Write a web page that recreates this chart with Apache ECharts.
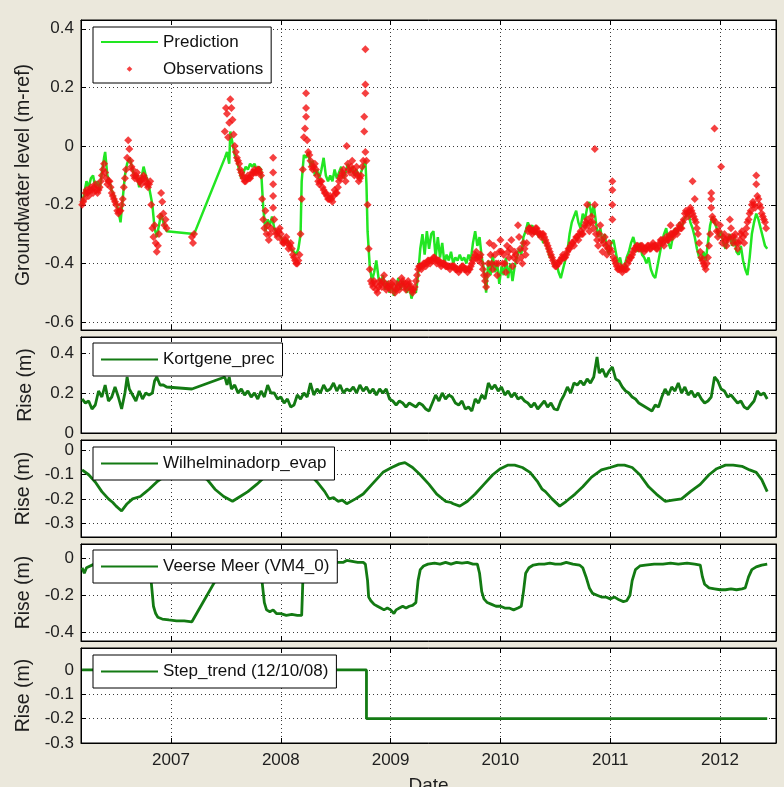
<!DOCTYPE html>
<html><head><meta charset="utf-8">
<script src="https://cdn.jsdelivr.net/npm/echarts@6/dist/echarts.min.js"></script>
<style>html,body{margin:0;padding:0;background:#ebe8dc;}#c{width:784px;height:787px;}</style>
</head><body><div id="c"></div><script>
// ---- data ----
const yearTicks = [2007, 2008, 2009, 2010, 2011, 2012];
const xRange = [2006.18, 2012.51];

const prediction = [[2006.19,-0.20],[2006.21,-0.16],[2006.23,-0.12],[2006.25,-0.14],[2006.27,-0.11],[2006.29,-0.10],[2006.31,-0.14],[2006.33,-0.12],[2006.35,-0.15],[2006.37,-0.09],[2006.39,-0.04],[2006.40,-0.02],[2006.42,-0.10],[2006.44,-0.12],[2006.46,-0.15],[2006.48,-0.17],[2006.50,-0.19],[2006.52,-0.22],[2006.54,-0.26],[2006.56,-0.18],[2006.58,-0.10],[2006.60,-0.06],[2006.62,-0.04],[2006.63,-0.05],[2006.65,-0.08],[2006.67,-0.11],[2006.69,-0.10],[2006.71,-0.14],[2006.73,-0.11],[2006.75,-0.07],[2006.77,-0.10],[2006.79,-0.12],[2006.81,-0.16],[2006.83,-0.20],[2006.85,-0.28],[2006.87,-0.31],[2006.89,-0.27],[2006.91,-0.23],[2006.93,-0.26],[2006.95,-0.28],[2006.96,-0.29],[2007.21,-0.30],[2007.49,-0.04],[2007.51,-0.02],[2007.53,-0.06],[2007.54,0.05],[2007.56,0.01],[2007.58,-0.03],[2007.60,-0.05],[2007.62,-0.08],[2007.64,-0.11],[2007.66,-0.09],[2007.68,-0.07],[2007.70,-0.08],[2007.72,-0.06],[2007.74,-0.07],[2007.76,-0.06],[2007.78,-0.08],[2007.80,-0.07],[2007.82,-0.08],[2007.84,-0.21],[2007.86,-0.29],[2007.88,-0.25],[2007.90,-0.27],[2007.92,-0.24],[2007.94,-0.28],[2007.97,-0.30],[2008.00,-0.31],[2008.03,-0.33],[2008.06,-0.32],[2008.09,-0.35],[2008.12,-0.36],[2008.14,-0.37],[2008.16,-0.35],[2008.18,-0.30],[2008.19,-0.12],[2008.21,-0.03],[2008.23,-0.04],[2008.25,-0.02],[2008.27,-0.07],[2008.29,-0.05],[2008.31,-0.10],[2008.33,-0.08],[2008.35,-0.11],[2008.37,-0.08],[2008.39,-0.04],[2008.41,-0.10],[2008.43,-0.12],[2008.45,-0.10],[2008.47,-0.12],[2008.49,-0.08],[2008.51,-0.11],[2008.53,-0.09],[2008.55,-0.07],[2008.57,-0.11],[2008.59,-0.09],[2008.61,-0.06],[2008.63,-0.09],[2008.65,-0.07],[2008.67,-0.10],[2008.69,-0.08],[2008.71,-0.11],[2008.73,-0.09],[2008.75,-0.07],[2008.77,-0.05],[2008.78,-0.13],[2008.79,-0.29],[2008.81,-0.41],[2008.83,-0.46],[2008.85,-0.43],[2008.87,-0.39],[2008.89,-0.45],[2008.91,-0.47],[2008.93,-0.44],[2008.95,-0.49],[2008.97,-0.46],[2008.99,-0.50],[2009.01,-0.47],[2009.03,-0.51],[2009.05,-0.48],[2009.07,-0.45],[2009.09,-0.49],[2009.11,-0.46],[2009.13,-0.48],[2009.15,-0.50],[2009.17,-0.47],[2009.19,-0.52],[2009.21,-0.49],[2009.23,-0.50],[2009.25,-0.44],[2009.27,-0.35],[2009.29,-0.30],[2009.31,-0.37],[2009.33,-0.29],[2009.35,-0.35],[2009.37,-0.30],[2009.39,-0.29],[2009.41,-0.38],[2009.43,-0.31],[2009.45,-0.38],[2009.47,-0.33],[2009.49,-0.40],[2009.51,-0.37],[2009.53,-0.39],[2009.55,-0.36],[2009.57,-0.40],[2009.59,-0.38],[2009.61,-0.39],[2009.63,-0.37],[2009.65,-0.39],[2009.67,-0.38],[2009.69,-0.40],[2009.71,-0.37],[2009.73,-0.39],[2009.75,-0.33],[2009.77,-0.29],[2009.79,-0.34],[2009.81,-0.31],[2009.83,-0.38],[2009.85,-0.42],[2009.87,-0.50],[2009.89,-0.39],[2009.91,-0.44],[2009.93,-0.37],[2009.95,-0.43],[2009.97,-0.40],[2009.99,-0.47],[2010.01,-0.41],[2010.03,-0.44],[2010.05,-0.38],[2010.07,-0.45],[2010.09,-0.40],[2010.11,-0.46],[2010.13,-0.41],[2010.15,-0.38],[2010.17,-0.35],[2010.19,-0.37],[2010.21,-0.31],[2010.23,-0.29],[2010.25,-0.26],[2010.27,-0.28],[2010.29,-0.27],[2010.31,-0.30],[2010.33,-0.29],[2010.35,-0.31],[2010.37,-0.30],[2010.39,-0.33],[2010.41,-0.32],[2010.43,-0.35],[2010.45,-0.38],[2010.47,-0.37],[2010.49,-0.41],[2010.51,-0.40],[2010.53,-0.43],[2010.55,-0.45],[2010.57,-0.42],[2010.59,-0.39],[2010.61,-0.36],[2010.63,-0.30],[2010.65,-0.26],[2010.67,-0.24],[2010.69,-0.22],[2010.71,-0.26],[2010.73,-0.28],[2010.75,-0.23],[2010.77,-0.25],[2010.79,-0.21],[2010.81,-0.19],[2010.83,-0.24],[2010.85,-0.20],[2010.87,-0.26],[2010.89,-0.31],[2010.91,-0.28],[2010.93,-0.33],[2010.95,-0.30],[2010.97,-0.35],[2010.99,-0.37],[2011.01,-0.33],[2011.03,-0.32],[2011.05,-0.36],[2011.07,-0.40],[2011.09,-0.38],[2011.11,-0.42],[2011.13,-0.41],[2011.15,-0.38],[2011.17,-0.36],[2011.19,-0.33],[2011.21,-0.31],[2011.23,-0.34],[2011.25,-0.36],[2011.27,-0.33],[2011.29,-0.37],[2011.31,-0.38],[2011.33,-0.40],[2011.35,-0.38],[2011.37,-0.42],[2011.39,-0.44],[2011.41,-0.45],[2011.43,-0.41],[2011.45,-0.37],[2011.47,-0.33],[2011.49,-0.30],[2011.51,-0.28],[2011.53,-0.33],[2011.55,-0.35],[2011.57,-0.31],[2011.59,-0.28],[2011.61,-0.30],[2011.63,-0.26],[2011.65,-0.28],[2011.67,-0.25],[2011.69,-0.24],[2011.71,-0.22],[2011.73,-0.26],[2011.75,-0.28],[2011.77,-0.31],[2011.79,-0.35],[2011.81,-0.38],[2011.83,-0.39],[2011.85,-0.36],[2011.87,-0.39],[2011.89,-0.33],[2011.91,-0.27],[2011.93,-0.24],[2011.95,-0.26],[2011.97,-0.28],[2011.99,-0.31],[2012.01,-0.29],[2012.03,-0.33],[2012.05,-0.35],[2012.07,-0.32],[2012.09,-0.30],[2012.11,-0.34],[2012.13,-0.31],[2012.15,-0.36],[2012.17,-0.37],[2012.19,-0.34],[2012.21,-0.39],[2012.23,-0.42],[2012.25,-0.44],[2012.27,-0.38],[2012.29,-0.30],[2012.31,-0.26],[2012.33,-0.23],[2012.35,-0.25],[2012.37,-0.28],[2012.39,-0.31],[2012.41,-0.34],[2012.43,-0.35]];

const observations = [[2006.19,-0.20],[2006.20,-0.19],[2006.21,-0.18],[2006.22,-0.16],[2006.23,-0.15],[2006.24,-0.16],[2006.25,-0.17],[2006.26,-0.15],[2006.27,-0.14],[2006.28,-0.15],[2006.29,-0.16],[2006.30,-0.14],[2006.31,-0.13],[2006.32,-0.15],[2006.33,-0.16],[2006.34,-0.15],[2006.35,-0.14],[2006.36,-0.12],[2006.37,-0.10],[2006.38,-0.08],[2006.39,-0.06],[2006.40,-0.09],[2006.41,-0.11],[2006.42,-0.13],[2006.43,-0.12],[2006.44,-0.12],[2006.45,-0.14],[2006.46,-0.16],[2006.47,-0.17],[2006.48,-0.18],[2006.49,-0.19],[2006.50,-0.20],[2006.51,-0.22],[2006.52,-0.23],[2006.53,-0.22],[2006.54,-0.22],[2006.55,-0.20],[2006.56,-0.18],[2006.57,-0.14],[2006.58,-0.11],[2006.59,-0.08],[2006.60,-0.04],[2006.61,0.02],[2006.62,-0.01],[2006.63,-0.05],[2006.64,-0.07],[2006.65,-0.08],[2006.66,-0.10],[2006.67,-0.11],[2006.68,-0.10],[2006.69,-0.09],[2006.70,-0.11],[2006.71,-0.12],[2006.72,-0.12],[2006.73,-0.13],[2006.74,-0.11],[2006.75,-0.10],[2006.76,-0.11],[2006.77,-0.12],[2006.78,-0.13],[2006.79,-0.14],[2006.80,-0.13],[2006.81,-0.12],[2006.82,-0.20],[2006.83,-0.28],[2006.84,-0.31],[2006.85,-0.27],[2006.86,-0.33],[2006.87,-0.36],[2006.88,-0.34],[2006.89,-0.30],[2006.90,-0.24],[2006.91,-0.16],[2006.92,-0.19],[2006.93,-0.23],[2006.94,-0.27],[2006.95,-0.25],[2006.96,-0.28],[2007.19,-0.31],[2007.20,-0.33],[2007.21,-0.30],[2007.49,0.05],[2007.50,0.13],[2007.51,0.11],[2007.52,0.03],[2007.53,0.08],[2007.54,0.16],[2007.55,0.13],[2007.56,0.09],[2007.57,0.04],[2007.58,0.00],[2007.59,-0.02],[2007.60,-0.04],[2007.61,-0.05],[2007.62,-0.06],[2007.63,-0.08],[2007.64,-0.09],[2007.65,-0.10],[2007.66,-0.11],[2007.67,-0.12],[2007.68,-0.12],[2007.69,-0.11],[2007.70,-0.10],[2007.71,-0.11],[2007.72,-0.11],[2007.73,-0.10],[2007.74,-0.09],[2007.75,-0.09],[2007.76,-0.08],[2007.77,-0.09],[2007.78,-0.09],[2007.79,-0.08],[2007.80,-0.08],[2007.81,-0.09],[2007.82,-0.10],[2007.83,-0.18],[2007.84,-0.25],[2007.85,-0.28],[2007.86,-0.22],[2007.87,-0.30],[2007.88,-0.27],[2007.89,-0.32],[2007.90,-0.30],[2007.91,-0.28],[2007.93,-0.04],[2007.93,-0.09],[2007.93,-0.13],[2007.93,-0.17],[2007.93,-0.21],[2007.94,-0.25],[2007.95,-0.29],[2007.96,-0.30],[2007.97,-0.31],[2007.98,-0.29],[2007.99,-0.28],[2008.00,-0.30],[2008.01,-0.32],[2008.02,-0.33],[2008.03,-0.33],[2008.04,-0.32],[2008.05,-0.31],[2008.06,-0.33],[2008.07,-0.35],[2008.08,-0.34],[2008.09,-0.33],[2008.10,-0.35],[2008.11,-0.37],[2008.12,-0.38],[2008.13,-0.39],[2008.14,-0.40],[2008.15,-0.40],[2008.16,-0.39],[2008.17,-0.37],[2008.18,-0.30],[2008.19,-0.18],[2008.20,-0.08],[2008.21,0.03],[2008.22,0.06],[2008.23,0.18],[2008.23,0.13],[2008.23,0.10],[2008.24,0.02],[2008.25,-0.02],[2008.26,-0.03],[2008.27,-0.05],[2008.28,-0.07],[2008.29,-0.08],[2008.30,-0.07],[2008.31,-0.06],[2008.32,-0.08],[2008.33,-0.10],[2008.34,-0.12],[2008.35,-0.13],[2008.36,-0.12],[2008.37,-0.12],[2008.38,-0.14],[2008.39,-0.15],[2008.40,-0.16],[2008.41,-0.16],[2008.42,-0.17],[2008.43,-0.18],[2008.44,-0.18],[2008.45,-0.17],[2008.46,-0.18],[2008.47,-0.19],[2008.48,-0.17],[2008.49,-0.15],[2008.50,-0.16],[2008.51,-0.16],[2008.52,-0.14],[2008.53,-0.12],[2008.54,-0.11],[2008.55,-0.10],[2008.56,-0.09],[2008.57,-0.08],[2008.58,-0.10],[2008.59,-0.12],[2008.60,0.00],[2008.61,-0.06],[2008.62,-0.08],[2008.63,-0.09],[2008.64,-0.07],[2008.65,-0.05],[2008.66,-0.08],[2008.67,-0.10],[2008.68,-0.09],[2008.69,-0.07],[2008.70,-0.10],[2008.71,-0.12],[2008.72,-0.11],[2008.73,-0.10],[2008.74,-0.07],[2008.75,-0.05],[2008.76,0.05],[2008.76,0.10],[2008.77,0.18],[2008.77,0.21],[2008.77,0.33],[2008.77,-0.02],[2008.78,-0.05],[2008.79,-0.20],[2008.80,-0.35],[2008.81,-0.42],[2008.82,-0.46],[2008.83,-0.47],[2008.84,-0.48],[2008.85,-0.46],[2008.86,-0.47],[2008.87,-0.49],[2008.88,-0.50],[2008.89,-0.48],[2008.90,-0.46],[2008.91,-0.47],[2008.92,-0.48],[2008.93,-0.46],[2008.94,-0.44],[2008.95,-0.47],[2008.96,-0.49],[2008.97,-0.48],[2008.98,-0.47],[2008.99,-0.48],[2009.00,-0.49],[2009.01,-0.47],[2009.02,-0.46],[2009.03,-0.48],[2009.04,-0.50],[2009.05,-0.49],[2009.06,-0.47],[2009.07,-0.48],[2009.08,-0.49],[2009.09,-0.47],[2009.10,-0.45],[2009.11,-0.46],[2009.12,-0.47],[2009.13,-0.48],[2009.14,-0.49],[2009.15,-0.47],[2009.16,-0.46],[2009.17,-0.47],[2009.18,-0.48],[2009.19,-0.49],[2009.20,-0.50],[2009.21,-0.49],[2009.22,-0.48],[2009.23,-0.46],[2009.24,-0.44],[2009.25,-0.42],[2009.26,-0.41],[2009.27,-0.41],[2009.28,-0.42],[2009.29,-0.41],[2009.30,-0.40],[2009.31,-0.40],[2009.32,-0.41],[2009.33,-0.40],[2009.34,-0.39],[2009.35,-0.39],[2009.36,-0.40],[2009.37,-0.39],[2009.38,-0.39],[2009.39,-0.38],[2009.40,-0.38],[2009.41,-0.39],[2009.42,-0.40],[2009.43,-0.39],[2009.44,-0.39],[2009.45,-0.40],[2009.46,-0.41],[2009.47,-0.40],[2009.48,-0.40],[2009.49,-0.40],[2009.50,-0.41],[2009.51,-0.41],[2009.52,-0.41],[2009.53,-0.41],[2009.54,-0.42],[2009.55,-0.41],[2009.56,-0.41],[2009.57,-0.41],[2009.58,-0.41],[2009.59,-0.42],[2009.60,-0.42],[2009.61,-0.42],[2009.62,-0.43],[2009.63,-0.42],[2009.64,-0.42],[2009.65,-0.41],[2009.66,-0.41],[2009.67,-0.42],[2009.68,-0.42],[2009.69,-0.42],[2009.70,-0.43],[2009.71,-0.42],[2009.72,-0.42],[2009.73,-0.41],[2009.74,-0.40],[2009.75,-0.39],[2009.76,-0.38],[2009.77,-0.37],[2009.78,-0.36],[2009.79,-0.38],[2009.80,-0.39],[2009.81,-0.38],[2009.82,-0.37],[2009.83,-0.40],[2009.84,-0.42],[2009.85,-0.44],[2009.86,-0.46],[2009.87,-0.48],[2009.88,-0.44],[2009.89,-0.40],[2009.90,-0.33],[2009.91,-0.37],[2009.92,-0.40],[2009.93,-0.42],[2009.94,-0.34],[2009.95,-0.37],[2009.96,-0.40],[2009.97,-0.44],[2009.98,-0.40],[2009.99,-0.36],[2010.00,-0.32],[2010.01,-0.36],[2010.02,-0.40],[2010.03,-0.37],[2010.04,-0.40],[2010.05,-0.43],[2010.06,-0.34],[2010.07,-0.36],[2010.08,-0.38],[2010.09,-0.35],[2010.10,-0.32],[2010.11,-0.41],[2010.12,-0.38],[2010.13,-0.36],[2010.14,-0.37],[2010.15,-0.39],[2010.16,-0.27],[2010.17,-0.31],[2010.18,-0.35],[2010.19,-0.38],[2010.20,-0.40],[2010.21,-0.33],[2010.22,-0.35],[2010.23,-0.37],[2010.24,-0.33],[2010.25,-0.29],[2010.26,-0.28],[2010.27,-0.28],[2010.28,-0.29],[2010.29,-0.30],[2010.30,-0.29],[2010.31,-0.29],[2010.32,-0.28],[2010.33,-0.28],[2010.34,-0.29],[2010.35,-0.30],[2010.36,-0.30],[2010.37,-0.31],[2010.38,-0.30],[2010.39,-0.30],[2010.40,-0.31],[2010.41,-0.32],[2010.42,-0.33],[2010.43,-0.34],[2010.44,-0.35],[2010.45,-0.36],[2010.46,-0.37],[2010.47,-0.38],[2010.48,-0.39],[2010.49,-0.40],[2010.50,-0.41],[2010.51,-0.41],[2010.52,-0.40],[2010.53,-0.40],[2010.54,-0.39],[2010.55,-0.39],[2010.56,-0.38],[2010.57,-0.37],[2010.58,-0.38],[2010.59,-0.38],[2010.60,-0.37],[2010.61,-0.36],[2010.62,-0.35],[2010.63,-0.35],[2010.64,-0.34],[2010.65,-0.33],[2010.66,-0.33],[2010.67,-0.34],[2010.68,-0.32],[2010.69,-0.31],[2010.70,-0.31],[2010.71,-0.32],[2010.72,-0.30],[2010.73,-0.29],[2010.74,-0.30],[2010.75,-0.30],[2010.76,-0.28],[2010.77,-0.27],[2010.78,-0.26],[2010.79,-0.25],[2010.79,-0.20],[2010.80,-0.27],[2010.81,-0.29],[2010.82,-0.26],[2010.83,-0.24],[2010.84,-0.26],[2010.85,-0.28],[2010.86,-0.20],[2010.86,-0.01],[2010.87,-0.30],[2010.88,-0.32],[2010.89,-0.34],[2010.90,-0.30],[2010.91,-0.27],[2010.92,-0.32],[2010.93,-0.36],[2010.94,-0.33],[2010.95,-0.31],[2010.96,-0.34],[2010.97,-0.37],[2010.98,-0.35],[2010.99,-0.33],[2011.00,-0.35],[2011.01,-0.36],[2011.02,-0.12],[2011.02,-0.15],[2011.02,-0.20],[2011.02,-0.25],[2011.03,-0.38],[2011.04,-0.39],[2011.05,-0.40],[2011.06,-0.41],[2011.07,-0.42],[2011.08,-0.42],[2011.09,-0.41],[2011.10,-0.42],[2011.11,-0.43],[2011.12,-0.42],[2011.13,-0.41],[2011.14,-0.42],[2011.15,-0.42],[2011.16,-0.40],[2011.17,-0.39],[2011.18,-0.38],[2011.19,-0.38],[2011.20,-0.37],[2011.21,-0.36],[2011.22,-0.35],[2011.23,-0.35],[2011.24,-0.34],[2011.25,-0.34],[2011.26,-0.35],[2011.27,-0.35],[2011.28,-0.34],[2011.29,-0.34],[2011.30,-0.35],[2011.31,-0.36],[2011.32,-0.35],[2011.33,-0.35],[2011.34,-0.34],[2011.35,-0.34],[2011.36,-0.35],[2011.37,-0.35],[2011.38,-0.34],[2011.39,-0.33],[2011.40,-0.34],[2011.41,-0.34],[2011.42,-0.35],[2011.43,-0.35],[2011.44,-0.34],[2011.45,-0.33],[2011.46,-0.32],[2011.47,-0.32],[2011.48,-0.33],[2011.49,-0.34],[2011.50,-0.32],[2011.51,-0.31],[2011.52,-0.32],[2011.53,-0.32],[2011.54,-0.31],[2011.55,-0.30],[2011.55,-0.27],[2011.56,-0.30],[2011.57,-0.31],[2011.58,-0.30],[2011.59,-0.29],[2011.60,-0.29],[2011.61,-0.30],[2011.62,-0.28],[2011.63,-0.27],[2011.64,-0.28],[2011.65,-0.28],[2011.66,-0.26],[2011.67,-0.25],[2011.68,-0.23],[2011.69,-0.22],[2011.70,-0.23],[2011.71,-0.24],[2011.72,-0.22],[2011.73,-0.21],[2011.74,-0.22],[2011.75,-0.12],[2011.75,-0.23],[2011.76,-0.24],[2011.77,-0.18],[2011.77,-0.25],[2011.78,-0.26],[2011.79,-0.28],[2011.80,-0.30],[2011.81,-0.33],[2011.82,-0.36],[2011.83,-0.38],[2011.84,-0.39],[2011.85,-0.40],[2011.86,-0.41],[2011.87,-0.42],[2011.88,-0.40],[2011.89,-0.38],[2011.90,-0.34],[2011.91,-0.30],[2011.92,-0.21],[2011.92,-0.18],[2011.92,-0.16],[2011.93,-0.24],[2011.94,-0.25],[2011.95,0.06],[2011.96,-0.26],[2011.97,-0.29],[2011.98,-0.31],[2011.99,-0.29],[2012.00,-0.27],[2012.01,-0.07],[2012.02,-0.33],[2012.03,-0.31],[2012.04,-0.30],[2012.05,-0.32],[2012.06,-0.34],[2012.07,-0.32],[2012.08,-0.31],[2012.09,-0.25],[2012.10,-0.28],[2012.11,-0.31],[2012.12,-0.33],[2012.13,-0.31],[2012.14,-0.30],[2012.15,-0.33],[2012.16,-0.35],[2012.17,-0.33],[2012.18,-0.32],[2012.19,-0.30],[2012.20,-0.29],[2012.21,-0.31],[2012.22,-0.33],[2012.23,-0.30],[2012.24,-0.28],[2012.25,-0.26],[2012.26,-0.25],[2012.27,-0.23],[2012.28,-0.22],[2012.29,-0.20],[2012.30,-0.19],[2012.31,-0.20],[2012.32,-0.21],[2012.33,-0.10],[2012.33,-0.13],[2012.34,-0.17],[2012.35,-0.18],[2012.36,-0.20],[2012.37,-0.21],[2012.38,-0.23],[2012.39,-0.24],[2012.40,-0.25],[2012.41,-0.26],[2012.42,-0.28]];

const kortgenePrec = [[2006.19,0.17],[2006.22,0.15],[2006.25,0.16],[2006.28,0.12],[2006.31,0.14],[2006.34,0.21],[2006.37,0.18],[2006.40,0.24],[2006.43,0.16],[2006.46,0.18],[2006.49,0.23],[2006.52,0.18],[2006.55,0.12],[2006.58,0.20],[2006.60,0.28],[2006.62,0.22],[2006.65,0.19],[2006.68,0.16],[2006.71,0.21],[2006.74,0.17],[2006.77,0.20],[2006.80,0.19],[2006.83,0.20],[2006.85,0.26],[2006.87,0.28],[2006.90,0.24],[2006.93,0.24],[2006.96,0.23],[2007.19,0.22],[2007.49,0.28],[2007.51,0.24],[2007.53,0.28],[2007.55,0.22],[2007.58,0.24],[2007.61,0.20],[2007.64,0.22],[2007.67,0.19],[2007.70,0.21],[2007.73,0.18],[2007.76,0.20],[2007.79,0.17],[2007.82,0.21],[2007.85,0.18],[2007.88,0.24],[2007.91,0.20],[2007.94,0.20],[2007.97,0.17],[2008.00,0.18],[2008.03,0.15],[2008.06,0.17],[2008.09,0.13],[2008.12,0.14],[2008.15,0.19],[2008.18,0.17],[2008.21,0.20],[2008.24,0.18],[2008.27,0.25],[2008.30,0.19],[2008.33,0.22],[2008.36,0.20],[2008.39,0.24],[2008.42,0.21],[2008.45,0.22],[2008.48,0.25],[2008.51,0.21],[2008.54,0.24],[2008.57,0.20],[2008.60,0.22],[2008.63,0.21],[2008.66,0.23],[2008.69,0.20],[2008.72,0.24],[2008.75,0.21],[2008.78,0.23],[2008.81,0.20],[2008.84,0.22],[2008.87,0.19],[2008.90,0.22],[2008.93,0.20],[2008.96,0.22],[2008.99,0.17],[2009.02,0.16],[2009.05,0.14],[2009.08,0.16],[2009.11,0.15],[2009.14,0.13],[2009.17,0.15],[2009.20,0.14],[2009.23,0.13],[2009.26,0.15],[2009.29,0.14],[2009.32,0.12],[2009.35,0.11],[2009.38,0.15],[2009.41,0.19],[2009.44,0.16],[2009.47,0.20],[2009.50,0.17],[2009.53,0.19],[2009.56,0.18],[2009.59,0.15],[2009.62,0.14],[2009.65,0.16],[2009.68,0.12],[2009.71,0.13],[2009.74,0.11],[2009.77,0.17],[2009.80,0.15],[2009.83,0.19],[2009.86,0.17],[2009.89,0.25],[2009.92,0.22],[2009.95,0.24],[2009.98,0.21],[2010.01,0.23],[2010.04,0.19],[2010.07,0.21],[2010.10,0.18],[2010.13,0.20],[2010.16,0.17],[2010.19,0.18],[2010.22,0.16],[2010.25,0.15],[2010.28,0.13],[2010.31,0.15],[2010.34,0.12],[2010.37,0.14],[2010.40,0.16],[2010.43,0.13],[2010.46,0.15],[2010.49,0.12],[2010.52,0.115],[2010.55,0.16],[2010.58,0.19],[2010.61,0.23],[2010.64,0.20],[2010.67,0.25],[2010.70,0.24],[2010.73,0.26],[2010.76,0.24],[2010.79,0.27],[2010.82,0.25],[2010.85,0.28],[2010.88,0.38],[2010.90,0.30],[2010.93,0.32],[2010.96,0.28],[2010.99,0.31],[2011.02,0.33],[2011.05,0.27],[2011.08,0.26],[2011.11,0.23],[2011.14,0.21],[2011.17,0.20],[2011.20,0.18],[2011.23,0.17],[2011.26,0.15],[2011.29,0.14],[2011.32,0.13],[2011.35,0.12],[2011.38,0.11],[2011.41,0.14],[2011.44,0.13],[2011.47,0.18],[2011.50,0.22],[2011.53,0.19],[2011.56,0.23],[2011.59,0.21],[2011.62,0.25],[2011.65,0.20],[2011.68,0.23],[2011.71,0.19],[2011.74,0.21],[2011.77,0.18],[2011.80,0.20],[2011.83,0.17],[2011.86,0.15],[2011.89,0.16],[2011.92,0.18],[2011.95,0.28],[2011.98,0.26],[2012.01,0.22],[2012.04,0.21],[2012.07,0.18],[2012.10,0.19],[2012.13,0.17],[2012.16,0.15],[2012.19,0.16],[2012.22,0.13],[2012.25,0.12],[2012.28,0.14],[2012.31,0.16],[2012.34,0.21],[2012.37,0.19],[2012.40,0.20],[2012.43,0.17]];

const wilhelminadorpEvap = [[2006.19,-0.08],[2006.25,-0.10],[2006.31,-0.13],[2006.37,-0.17],[2006.43,-0.20],[2006.47,-0.215],[2006.50,-0.23],[2006.55,-0.25],[2006.60,-0.22],[2006.65,-0.20],[2006.72,-0.19],[2006.76,-0.175],[2006.80,-0.16],[2006.87,-0.13],[2006.96,-0.10],[2007.19,-0.09],[2007.33,-0.12],[2007.40,-0.16],[2007.48,-0.19],[2007.56,-0.21],[2007.63,-0.19],[2007.70,-0.17],[2007.78,-0.14],[2007.85,-0.11],[2007.95,-0.08],[2008.10,-0.06],[2008.25,-0.09],[2008.33,-0.13],[2008.40,-0.17],[2008.44,-0.20],[2008.48,-0.195],[2008.52,-0.21],[2008.56,-0.205],[2008.60,-0.22],[2008.68,-0.20],[2008.75,-0.18],[2008.83,-0.14],[2008.93,-0.09],[2009.01,-0.07],[2009.08,-0.055],[2009.13,-0.05],[2009.20,-0.07],[2009.27,-0.10],[2009.35,-0.14],[2009.42,-0.18],[2009.50,-0.21],[2009.55,-0.215],[2009.57,-0.22],[2009.63,-0.23],[2009.70,-0.21],[2009.77,-0.18],[2009.85,-0.14],[2009.93,-0.10],[2010.00,-0.075],[2010.07,-0.06],[2010.13,-0.06],[2010.20,-0.07],[2010.27,-0.09],[2010.34,-0.13],[2010.38,-0.16],[2010.41,-0.17],[2010.47,-0.20],[2010.54,-0.23],[2010.60,-0.21],[2010.68,-0.18],[2010.75,-0.15],[2010.83,-0.11],[2010.92,-0.08],[2011.00,-0.07],[2011.07,-0.06],[2011.13,-0.06],[2011.20,-0.07],[2011.27,-0.10],[2011.35,-0.15],[2011.42,-0.18],[2011.50,-0.21],[2011.57,-0.205],[2011.65,-0.20],[2011.73,-0.17],[2011.82,-0.14],[2011.90,-0.10],[2011.97,-0.075],[2012.05,-0.06],[2012.12,-0.06],[2012.20,-0.065],[2012.27,-0.08],[2012.33,-0.09],[2012.38,-0.12],[2012.43,-0.17]];

const veerseMeer = [[2006.19,-0.05],[2006.21,-0.08],[2006.23,-0.05],[2006.30,-0.03],[2006.45,-0.03],[2006.60,-0.02],[2006.75,-0.03],[2006.80,-0.05],[2006.82,-0.13],[2006.84,-0.26],[2006.86,-0.30],[2006.88,-0.32],[2006.92,-0.33],[2006.98,-0.335],[2007.05,-0.34],[2007.12,-0.34],[2007.19,-0.345],[2007.49,-0.03],[2007.55,-0.02],[2007.65,-0.02],[2007.75,-0.03],[2007.81,-0.04],[2007.83,-0.13],[2007.85,-0.24],[2007.87,-0.28],[2007.90,-0.29],[2007.93,-0.28],[2007.96,-0.30],[2008.00,-0.30],[2008.05,-0.31],[2008.10,-0.305],[2008.15,-0.31],[2008.19,-0.31],[2008.20,-0.13],[2008.22,-0.05],[2008.30,-0.03],[2008.45,-0.02],[2008.57,-0.02],[2008.60,-0.01],[2008.65,-0.015],[2008.70,-0.02],[2008.75,-0.02],[2008.77,-0.03],[2008.79,-0.12],[2008.80,-0.21],[2008.82,-0.23],[2008.85,-0.25],[2008.88,-0.26],[2008.91,-0.27],[2008.94,-0.28],[2008.97,-0.27],[2009.00,-0.28],[2009.03,-0.30],[2009.05,-0.28],[2009.08,-0.27],[2009.11,-0.26],[2009.14,-0.27],[2009.17,-0.26],[2009.20,-0.255],[2009.23,-0.24],[2009.25,-0.12],[2009.27,-0.06],[2009.30,-0.04],[2009.34,-0.03],[2009.40,-0.025],[2009.45,-0.03],[2009.50,-0.02],[2009.55,-0.03],[2009.60,-0.02],[2009.65,-0.025],[2009.70,-0.02],[2009.75,-0.03],[2009.79,-0.03],[2009.81,-0.08],[2009.83,-0.18],[2009.85,-0.22],[2009.88,-0.24],[2009.92,-0.25],[2009.96,-0.26],[2010.00,-0.26],[2010.04,-0.27],[2010.08,-0.27],[2010.12,-0.28],[2010.16,-0.27],[2010.19,-0.26],[2010.21,-0.18],[2010.23,-0.08],[2010.26,-0.05],[2010.30,-0.035],[2010.35,-0.03],[2010.40,-0.03],[2010.45,-0.025],[2010.50,-0.03],[2010.55,-0.03],[2010.60,-0.02],[2010.66,-0.03],[2010.72,-0.035],[2010.75,-0.05],[2010.78,-0.10],[2010.81,-0.16],[2010.84,-0.19],[2010.88,-0.20],[2010.92,-0.21],[2010.96,-0.21],[2011.00,-0.22],[2011.04,-0.21],[2011.08,-0.225],[2011.12,-0.235],[2011.15,-0.23],[2011.18,-0.20],[2011.20,-0.12],[2011.23,-0.06],[2011.27,-0.04],[2011.32,-0.035],[2011.40,-0.03],[2011.48,-0.03],[2011.55,-0.025],[2011.62,-0.03],[2011.70,-0.025],[2011.77,-0.03],[2011.82,-0.035],[2011.84,-0.10],[2011.86,-0.14],[2011.90,-0.16],[2011.95,-0.165],[2012.00,-0.17],[2012.05,-0.17],[2012.10,-0.165],[2012.15,-0.17],[2012.20,-0.165],[2012.23,-0.16],[2012.26,-0.10],[2012.29,-0.06],[2012.33,-0.045],[2012.38,-0.035],[2012.43,-0.03]];

const stepTrend = [[2006.19,0],[2008.78,0],[2008.78,-0.2],[2012.43,-0.2]];

const panelNames = ['Prediction', 'Kortgene_prec', 'Wilhelminadorp_evap', 'Veerse Meer (VM4_0)', 'Step_trend (12/10/08)'];
const yMins = [-0.627, 0, -0.358, -0.45, -0.3];
const yMaxs = [0.43, 0.48, 0.044, 0.08, 0.09];
const yTicks = [[-0.6,-0.4,-0.2,0,0.2,0.4],[0,0.2,0.4],[-0.3,-0.2,-0.1,0],[-0.4,-0.2,0],[-0.3,-0.2,-0.1,0]];
const yNames = ['Groundwater level (m-ref)', 'Rise (m)', 'Rise (m)', 'Rise (m)', 'Rise (m)'];

// ---- layout / styles ----
const FONT = 'Liberation Sans, Arial, Helvetica, sans-serif';
const gridTops = [20, 337, 440, 544, 648];
const gridHeights = [310, 96, 97, 97, 95];
const legendTops = [27, 343, 447, 550, 655];
const darkGreen = '#137a13';
const dotted = {color: '#3a3a3a', width: 1, type: [1, 3]};
const noSymbol = {opacity: 0};

const grids = [], xAxes = [], yAxes = [], legends = [];
for (let i = 0; i < 5; i++) {
  grids.push({left: 81, width: 695, top: gridTops[i], height: gridHeights[i], show: true,
    backgroundColor: '#fff', borderColor: '#000', borderWidth: 1, containLabel: false, outerBoundsMode: 'none'});
  const last = i === 4;
  xAxes.push({type: 'value', gridIndex: i, min: xRange[0], max: xRange[1], position: 'bottom',
    axisLine: {show: true, onZero: false, lineStyle: {color: '#000', width: 1}},
    axisTick: {show: true, inside: true, length: 5, customValues: yearTicks, lineStyle: {color: '#000'}},
    axisLabel: {show: last, customValues: yearTicks, margin: 9, fontSize: 17, fontFamily: FONT, color: '#1e1e1e', formatter: v => String(v)},
    splitLine: {show: true, lineStyle: dotted},
    name: last ? 'Date' : '', nameLocation: 'middle', nameGap: 33,
    nameTextStyle: {fontSize: 19, fontFamily: FONT, color: '#1e1e1e'}});
  xAxes.push({type: 'value', gridIndex: i, min: xRange[0], max: xRange[1], position: 'top',
    axisLine: {show: true, onZero: false, lineStyle: {color: '#000', width: 1}},
    axisTick: {show: true, inside: true, length: 5, customValues: yearTicks, lineStyle: {color: '#000'}},
    axisLabel: {show: false}, splitLine: {show: false}});
  yAxes.push({type: 'value', gridIndex: i, min: yMins[i], max: yMaxs[i], position: 'left',
    axisLine: {show: true, onZero: false, lineStyle: {color: '#000', width: 1}},
    axisTick: {show: true, inside: true, length: 5, customValues: yTicks[i], lineStyle: {color: '#000'}},
    axisLabel: {show: true, customValues: yTicks[i], margin: 7, fontSize: 17, fontFamily: FONT, color: '#1e1e1e'},
    splitLine: {show: true, lineStyle: dotted},
    name: yNames[i], nameLocation: 'middle', nameGap: 45, nameRotate: 90,
    nameTextStyle: {fontSize: 19.5, fontFamily: FONT, color: '#1e1e1e'}});
  yAxes.push({type: 'value', gridIndex: i, min: yMins[i], max: yMaxs[i], position: 'right',
    axisLine: {show: true, onZero: false, lineStyle: {color: '#000', width: 1}},
    axisTick: {show: true, inside: true, length: 5, customValues: yTicks[i], lineStyle: {color: '#000'}},
    axisLabel: {show: false}, splitLine: {show: false}});
  const items = i === 0
    ? [{name: 'Prediction', itemStyle: noSymbol}, {name: 'Observations', icon: 'path://M0,0M20,20M10,6L14,10L10,14L6,10Z'}]
    : [{name: panelNames[i], itemStyle: noSymbol}];
  legends.push({left: 93, top: legendTops[i], orient: 'vertical', selectedMode: false,
    itemWidth: 57, itemHeight: 14, itemGap: 9,
    padding: i === 0 ? [6, 8, 5, 7] : [7.5, 8, 7.5, 7],
    borderColor: '#000', borderWidth: 1, borderRadius: 0, backgroundColor: '#fff',
    textStyle: {fontSize: 17, lineHeight: 18, fontFamily: FONT, color: '#111'},
    data: items});
}

const lineSeries = (name, data, idx, color, width, z) => ({
  name, type: 'line', data, xAxisIndex: 2 * idx, yAxisIndex: 2 * idx,
  showSymbol: false, symbol: 'none', z: z || 2,
  lineStyle: {color, width}, itemStyle: {color}});

const series = [
  lineSeries('Prediction', prediction, 0, '#22e622', 2.5),
  {name: 'Observations', type: 'scatter', data: observations, xAxisIndex: 0, yAxisIndex: 0,
   symbol: 'diamond', symbolSize: 8, z: 3, itemStyle: {color: '#f21010'}},
  lineSeries('Kortgene_prec', kortgenePrec, 1, darkGreen, 2.8),
  lineSeries('Wilhelminadorp_evap', wilhelminadorpEvap, 2, darkGreen, 2.8),
  lineSeries('Veerse Meer (VM4_0)', veerseMeer, 3, darkGreen, 2.8),
  lineSeries('Step_trend (12/10/08)', stepTrend, 4, darkGreen, 2.8)
];

const chart = echarts.init(document.getElementById('c'), null, {renderer: 'canvas'});
chart.setOption({
  backgroundColor: '#ebe8dc', animation: false,
  grid: grids, xAxis: xAxes, yAxis: yAxes, legend: legends, series: series
});
</script></body></html>
